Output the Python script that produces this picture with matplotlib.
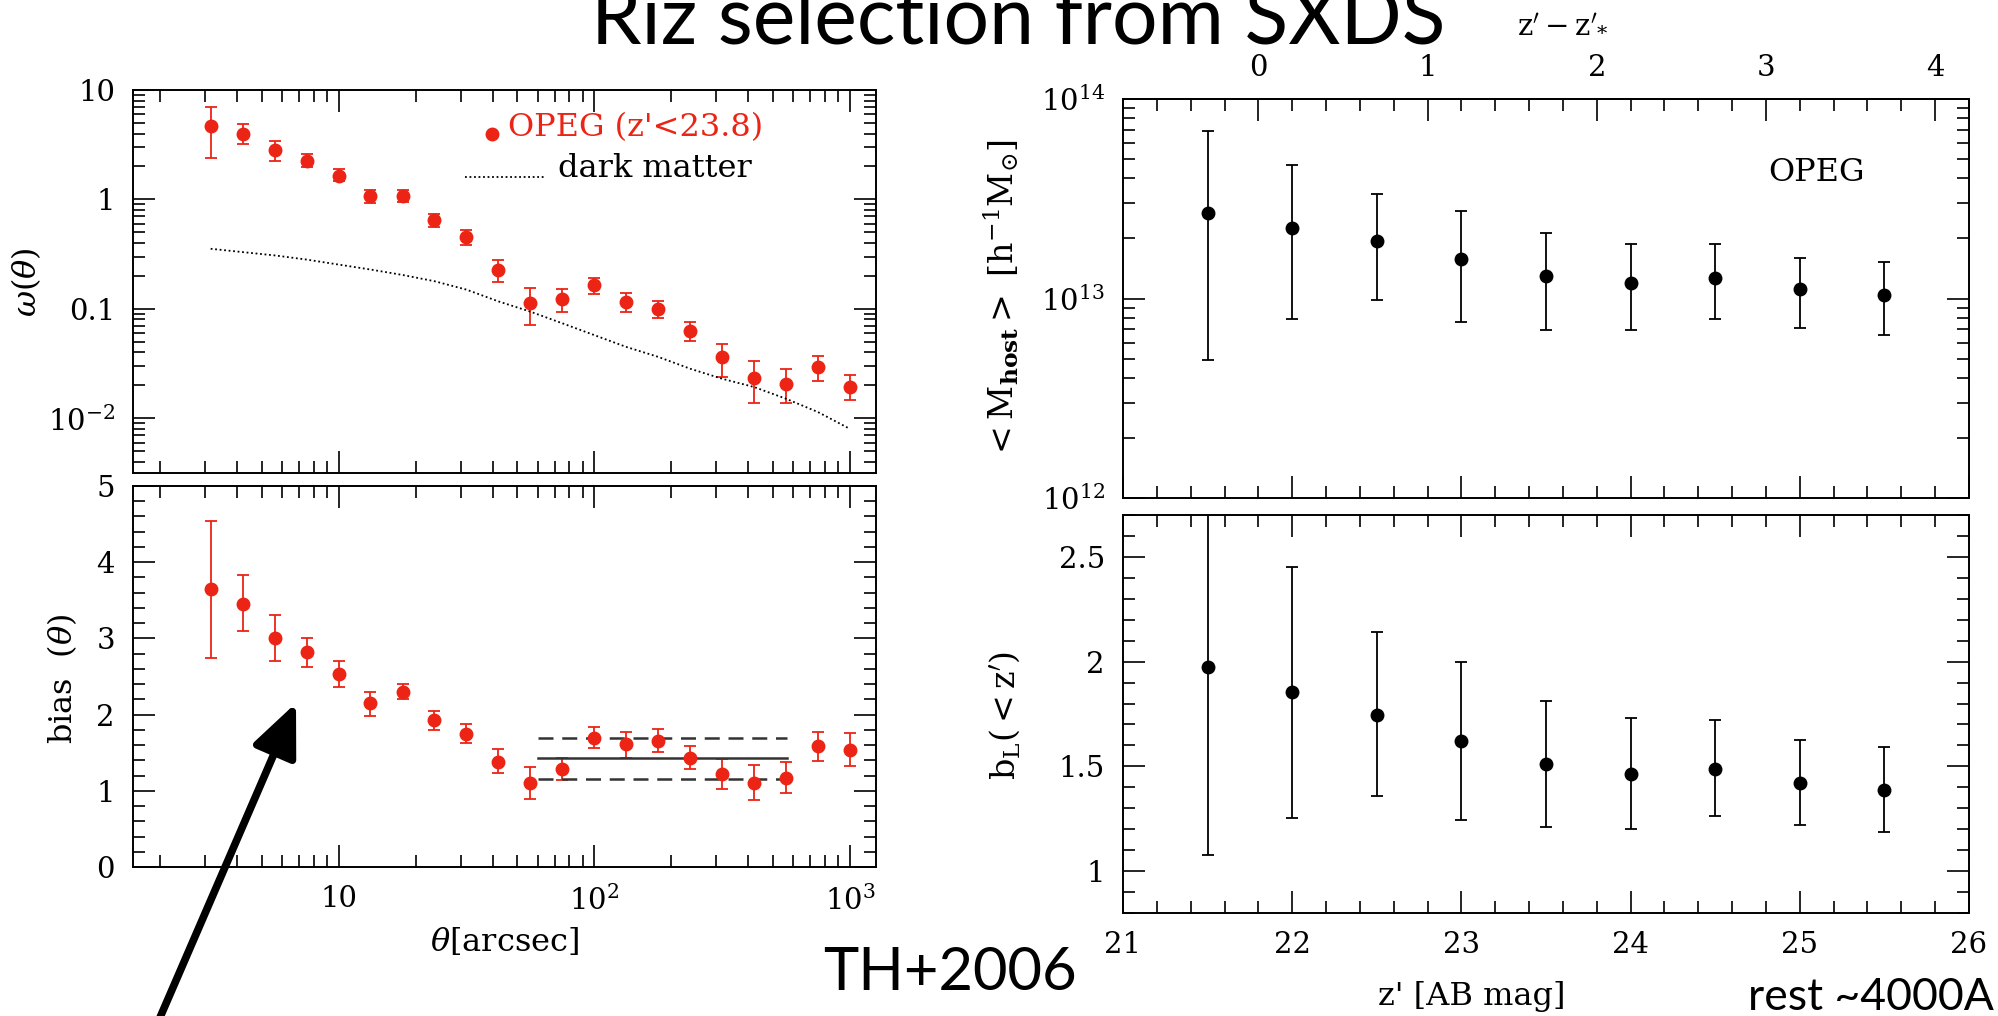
import numpy as np
import matplotlib.pyplot as plt
from matplotlib.patches import FancyArrowPatch
from matplotlib.ticker import (FixedLocator, FixedFormatter, LogLocator,
                               MultipleLocator, NullFormatter, FormatStrFormatter)

plt.rcParams['font.family'] = 'DejaVu Serif'
plt.rcParams['mathtext.fontset'] = 'dejavuserif'

# angular correlation / bias of OPEGs vs theta [arcsec]
theta = [3.16, 4.22, 5.62, 7.50, 10.0, 13.3, 17.8, 23.7, 31.6, 42.2, 56.2,
         75.0, 100, 133, 178, 237, 316, 422, 562, 750, 1000]
w_val = [4.67, 3.96, 2.80, 2.25, 1.65, 1.07, 1.08, 0.655, 0.45, 0.225, 0.114,
         0.122, 0.165, 0.116, 0.100, 0.0628, 0.0364, 0.0233, 0.0207, 0.0294, 0.0193]
w_hi = [6.92, 4.93, 3.42, 2.58, 1.88, 1.22, 1.21, 0.743, 0.526, 0.277, 0.156,
        0.151, 0.19, 0.139, 0.119, 0.0759, 0.0473, 0.0337, 0.0282, 0.0372, 0.0249]
w_lo = [2.40, 3.18, 2.25, 1.97, 1.46, 0.93, 0.95, 0.56, 0.385, 0.176, 0.071,
        0.093, 0.136, 0.093, 0.082, 0.0512, 0.0238, 0.0139, 0.0139, 0.0217, 0.0146]
w_dm = [0.354, 0.33, 0.308, 0.282, 0.254, 0.229, 0.204, 0.179, 0.150, 0.117, 0.0944,
        0.0738, 0.0576, 0.045, 0.0364, 0.0284, 0.0230, 0.0193, 0.0151, 0.0114, 0.0080]

b_val = [3.644, 3.457, 3.009, 2.817, 2.530, 2.146, 2.301, 1.932, 1.749, 1.384, 1.105,
         1.292, 1.699, 1.616, 1.658, 1.434, 1.215, 1.096, 1.174, 1.584, 1.539]
b_hi = [4.543, 3.836, 3.311, 3.009, 2.699, 2.301, 2.406, 2.05, 1.877, 1.548, 1.315,
        1.434, 1.836, 1.776, 1.813, 1.584, 1.416, 1.333, 1.374, 1.776, 1.753]
b_lo = [2.74, 3.10, 2.703, 2.621, 2.365, 1.982, 2.2, 1.795, 1.630, 1.233, 0.895,
        1.146, 1.566, 1.434, 1.507, 1.292, 1.023, 0.877, 0.977, 1.397, 1.329]

# large-scale bias fit and its range
fit_theta = [60, 569]
fit_b, fit_b_up, fit_b_dn = 1.425, 1.69, 1.151

# host halo mass and bias vs limiting magnitude
zmag = [21.5, 22.0, 22.5, 23.0, 23.5, 24.0, 24.5, 25.0, 25.5]
zstar = 21.8
m_val = [2.68e13, 2.26e13, 1.95e13, 1.58e13, 1.30e13, 1.20e13, 1.26e13, 1.11e13, 1.04e13]
m_hi = [6.9e13, 4.67e13, 3.33e13, 2.75e13, 2.13e13, 1.87e13, 1.87e13, 1.59e13, 1.52e13]
m_lo = [4.9e12, 7.9e12, 9.8e12, 7.6e12, 6.97e12, 6.97e12, 7.9e12, 7.13e12, 6.58e12]
bl_val = [1.973, 1.854, 1.747, 1.620, 1.509, 1.464, 1.488, 1.421, 1.386]
bl_hi = [2.86, 2.453, 2.141, 2.0, 1.811, 1.731, 1.723, 1.628, 1.591]
bl_lo = [1.078, 1.254, 1.358, 1.245, 1.21, 1.202, 1.262, 1.218, 1.186]

RED = '#ec2415'
TICK_FS = 21
LABEL_FS = 23
W, H = 1998, 1016
fig = plt.figure(figsize=(W / 100, H / 100), dpi=100)


def box(x0, y0, x1, y1):
    return [x0 / W, 1 - y1 / H, (x1 - x0) / W, (y1 - y0) / H]


def style(ax, top=True):
    for s in ax.spines.values():
        s.set_linewidth(1.4)
    ax.tick_params(which='both', direction='in', top=top, right=True,
                   width=1.2, labelsize=TICK_FS)
    ax.tick_params(which='major', length=16, pad=13)
    ax.tick_params(which='minor', length=8.5)


def errs(v, lo, hi):
    v, lo, hi = np.array(v), np.array(lo), np.array(hi)
    return [v - lo, hi - v]


ax_w = fig.add_axes(box(133, 90, 876, 473))
ax_b = fig.add_axes(box(133, 486, 876, 867))
ax_m = fig.add_axes(box(1123, 99, 1969, 498))
ax_l = fig.add_axes(box(1123, 515, 1969, 913))

# --- omega(theta)
ax_w.errorbar(theta, w_val, yerr=errs(w_val, w_lo, w_hi), fmt='o', color=RED,
              ms=9, capsize=4.5, elinewidth=1.3, capthick=1.3)
ax_w.plot(theta, w_dm, color='k', lw=1.3, ls=(0, (1, 1.5)))
ax_w.set_xscale('log')
ax_w.set_yscale('log')
ax_w.set_xlim(1.57, 1265)
ax_w.set_ylim(10 ** -2.5, 10)
ax_w.yaxis.set_major_locator(FixedLocator([0.01, 0.1, 1, 10]))
ax_w.yaxis.set_major_formatter(FixedFormatter([r'$10^{-2}$', '0.1', '1', '10']))
ax_w.yaxis.set_minor_locator(LogLocator(base=10, subs=range(2, 10)))
ax_w.yaxis.set_minor_formatter(NullFormatter())

ax_w.plot([0.483], [0.885], 'o', color=RED, ms=9, transform=ax_w.transAxes)
ax_w.text(0.505, 0.903, "OPEG (z'<23.8)", color=RED, fontsize=LABEL_FS, va='center',
          transform=ax_w.transAxes)
ax_w.plot([0.447, 0.553], [0.773, 0.773], color='k', lw=1.3, ls=(0, (1, 1.5)),
          transform=ax_w.transAxes)
ax_w.text(0.572, 0.796, 'dark matter', fontsize=LABEL_FS, va='center',
          transform=ax_w.transAxes)

# --- bias(theta)
ax_b.errorbar(theta, b_val, yerr=errs(b_val, b_lo, b_hi), fmt='o', color=RED,
              ms=9, capsize=4.5, elinewidth=1.3, capthick=1.3)
ax_b.plot(fit_theta, [fit_b, fit_b], color='#333333', lw=1.8)
ax_b.plot(fit_theta, [fit_b_up, fit_b_up], color='#333333', lw=1.8, dashes=(6, 3.5))
ax_b.plot(fit_theta, [fit_b_dn, fit_b_dn], color='#333333', lw=1.8, dashes=(6, 3.5))
ax_b.set_xscale('log')
ax_b.set_xlim(1.57, 1265)
ax_b.set_ylim(0, 5)
ax_b.yaxis.set_major_locator(MultipleLocator(1))
ax_b.yaxis.set_minor_locator(MultipleLocator(0.2))
ax_b.yaxis.set_major_formatter(FormatStrFormatter('%d'))

for ax in (ax_w, ax_b):
    ax.xaxis.set_major_locator(FixedLocator([10, 100, 1000]))
    ax.xaxis.set_major_formatter(FixedFormatter(['10', r'$10^2$', r'$10^3$']))
    ax.xaxis.set_minor_locator(LogLocator(base=10, subs=range(2, 10)))
    ax.xaxis.set_minor_formatter(NullFormatter())
    style(ax)
ax_w.tick_params(labelbottom=False)

# --- host halo mass
ax_m.errorbar(zmag, m_val, yerr=errs(m_val, m_lo, m_hi), fmt='o', color='k',
              ms=9, capsize=4, elinewidth=1.3, capthick=1.3)
ax_m.set_yscale('log')
ax_m.set_ylim(1e12, 1e14)
ax_m.yaxis.set_major_locator(FixedLocator([1e12, 1e13, 1e14]))
ax_m.yaxis.set_major_formatter(FixedFormatter([r'$10^{12}$', r'$10^{13}$', r'$10^{14}$']))
ax_m.yaxis.set_minor_locator(LogLocator(base=10, subs=range(2, 10)))
ax_m.yaxis.set_minor_formatter(NullFormatter())
ax_m.text(0.82, 0.817, 'OPEG', fontsize=LABEL_FS, ha='center', va='center',
          transform=ax_m.transAxes)

# --- luminosity bias
ax_l.errorbar(zmag, bl_val, yerr=errs(bl_val, bl_lo, bl_hi), fmt='o', color='k',
              ms=9, capsize=4, elinewidth=1.3, capthick=1.3)
ax_l.set_ylim(0.8, 2.7)
ax_l.yaxis.set_major_locator(MultipleLocator(0.5))
ax_l.yaxis.set_minor_locator(MultipleLocator(0.1))
ax_l.yaxis.set_major_formatter(FormatStrFormatter('%g'))

for ax in (ax_m, ax_l):
    ax.set_xlim(21, 26)
    ax.xaxis.set_major_locator(MultipleLocator(1))
    ax.xaxis.set_minor_locator(MultipleLocator(0.2))
style(ax_m, top=False)
style(ax_l)
ax_m.tick_params(labelbottom=False)

# z' - z'* scale on top
sec = ax_m.secondary_xaxis('top', functions=(lambda z: z - zstar, lambda d: d + zstar))
sec.xaxis.set_major_locator(FixedLocator([0, 1, 2, 3, 4]))
sec.xaxis.set_minor_locator(MultipleLocator(0.2))
sec.xaxis.set_major_formatter(FormatStrFormatter('%d'))
sec.tick_params(which='both', direction='in', width=1.2, labelsize=TICK_FS)
sec.tick_params(which='major', length=16, pad=12)
sec.tick_params(which='minor', length=8.5)
sec.spines['top'].set_linewidth(1.4)

# axis labels
fig.text(26 / W, 1 - 282 / H, r'$\omega(\theta)$', fontsize=LABEL_FS, rotation=90,
         ha='center', va='center')
fig.text(62 / W, 1 - 679 / H, r'bias  $(\theta)$', fontsize=LABEL_FS, rotation=90,
         ha='center', va='center')
fig.text(505 / W, 1 - 942 / H, r'$\theta$[arcsec]', fontsize=LABEL_FS,
         ha='center', va='center')
fig.text(1001 / W, 1 - 300 / H,
         r'$<\mathrm{M}_\mathbf{host}>\ [\mathrm{h^{-1}M_{\odot}}]$',
         fontsize=24, rotation=90, ha='center', va='center')
fig.text(1005 / W, 1 - 715 / H, r"$\mathrm{b}_\mathrm{L}(<\mathrm{z}')$",
         fontsize=24, rotation=90, ha='center', va='center')
fig.text(1472 / W, 1 - 996 / H, "z' [AB mag]", fontsize=LABEL_FS,
         ha='center', va='center')
fig.text(1563 / W, 1 - 24 / H, r"$\mathrm{z}'-\mathrm{z}'_{*}$", fontsize=21,
         ha='center', va='center')

# slide annotations
fig.text(1018 / W, 1 - 44 / H, 'Riz selection from SXDS', family='Lato',
         fontsize=58, ha='center', va='baseline')
fig.text(823 / W, 1 - 990 / H, 'TH+2006', family='Lato', fontsize=43,
         ha='left', va='baseline')
fig.text(1748 / W, 1 - 1010 / H, 'rest ~4000A', family='Lato', fontsize=32,
         ha='left', va='baseline')

fig.add_artist(FancyArrowPatch(
    (152 / W, -20 / H), (296 / W, 1 - 703 / H), transform=fig.transFigure,
    arrowstyle='-|>,head_length=1.6,head_width=0.7', mutation_scale=20,
    lw=5.5, color='k', shrinkA=0, shrinkB=0))

fig.savefig('out.png', dpi=100)
